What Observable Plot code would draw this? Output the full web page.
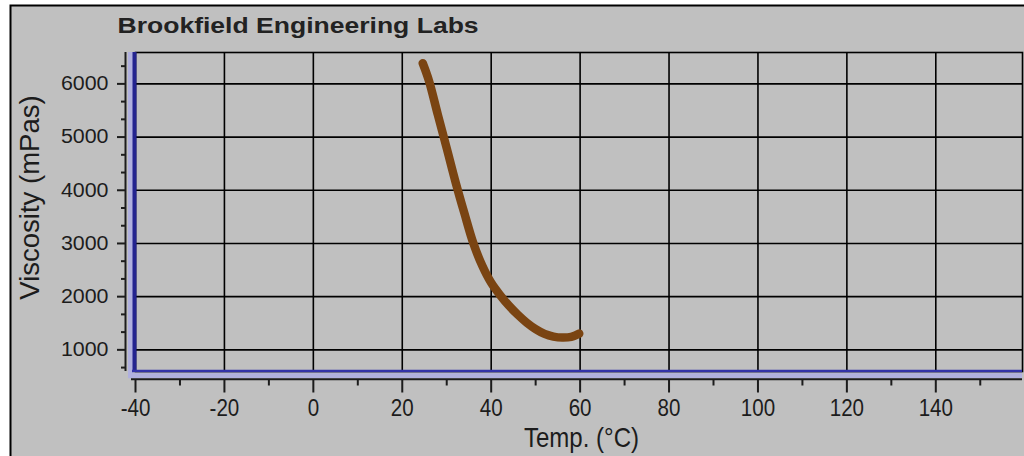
<!DOCTYPE html>
<html>
<head>
<meta charset="utf-8">
<script src="https://cdn.jsdelivr.net/npm/d3@7"></script>
<script src="https://cdn.jsdelivr.net/npm/@observablehq/plot@0.6"></script>
<style>
  html, body { margin: 0; padding: 0; background: #fff; }
  #chart svg { display: block; }
</style>
</head>
<body>
<div id="chart"></div>
<script>
// Viscosity readings against temperature
const temperature = [24.6, 26, 28, 30, 32, 34, 36, 38, 40, 42, 44, 46, 48, 50, 52, 54, 56, 58, 59.8];
const viscosity   = [6390, 6060, 5420, 4790, 4150, 3560, 3000, 2580, 2260, 2030, 1830, 1660, 1510, 1390, 1300, 1250, 1232, 1245, 1305];

// Axis ticks
const xMajorTicks = [-40, -20, 0, 20, 40, 60, 80, 100, 120, 140];
const xMinorTicks = [-30, -10, 10, 30, 50, 70, 90, 110, 130, 150];
const yMajorTicks = [1000, 2000, 3000, 4000, 5000, 6000];
const yMinorTicks = [666.67, 1333.33, 1666.67, 2333.33, 2666.67, 3333.33, 3666.67,
                     4333.33, 4666.67, 5333.33, 5666.67, 6333.33];
const xGrid = [-20, 0, 20, 40, 60, 80, 100, 120, 140];
const yGrid = [1000, 2000, 3000, 4000, 5000, 6000];

const title = "Brookfield Engineering Labs";
const xLabel = "Temp. (°C)";
const yLabel = "Viscosity (mPas)";

const readings = temperature.map((t, i) => ({t, v: viscosity[i]}));
const xDomain = [-40, 159.5];
const yDomain = [593, 6590];
const xMin = [xDomain[0]];
const yMin = [yDomain[0]];

const panel = "#c0c0c0";
const ink = "#1c1c1c";
const wallBlue = "#24248f";
const wallTint = "#b0b0de";
const font = "'Liberation Sans', Arial, sans-serif";
const plainNumber = d => String(d);

const chart = Plot.plot({
  width: 1024,
  height: 456,
  marginLeft: 135,
  marginRight: 2,
  marginTop: 52,
  marginBottom: 85,
  style: {fontFamily: font, background: "#fff", overflow: "hidden"},
  x: {domain: xDomain, label: null},
  y: {domain: yDomain, label: null},
  marks: [
    // outer grey panel with its black border
    Plot.frame({fill: panel, stroke: "#000", strokeWidth: 2,
      insetLeft: -125, insetTop: -47, insetRight: -12, insetBottom: -100}),

    // tinted wall bands left and below the plotting area
    Plot.ruleX(xMin, {stroke: wallTint, strokeWidth: 5, dx: -5, insetBottom: -6}),
    Plot.ruleY(yMin, {stroke: wallTint, strokeWidth: 5, dy: 4.2, insetLeft: -7}),

    // grid
    Plot.ruleX(xGrid, {stroke: "#000", strokeWidth: 1.6}),
    Plot.ruleY(yGrid, {stroke: "#000", strokeWidth: 1.6}),
    Plot.frame({stroke: "#000", strokeWidth: 1.6}),

    // blue walls
    Plot.ruleX(xMin, {stroke: wallBlue, strokeWidth: 4, dx: -1}),
    Plot.ruleY(yMin, {stroke: "#3232a8", strokeWidth: 2.4, dy: -0.5, insetLeft: -3}),

    // axis lines
    Plot.ruleY(yMin, {stroke: ink, strokeWidth: 2, dy: 7.7, insetLeft: -4}),
    Plot.ruleX(xMin, {stroke: ink, strokeWidth: 2, dx: -10}),

    // x axis
    Plot.axisX(xMajorTicks, {anchor: "bottom", tickSize: 13, dy: 8.5, tickPadding: 5.5,
      stroke: ink, strokeWidth: 2, fill: ink, fontSize: 24.5, label: null, tickFormat: plainNumber}),
    Plot.axisX(xMinorTicks, {anchor: "bottom", tickSize: 6, dy: 8.5,
      stroke: ink, strokeWidth: 2, fill: "none", label: null}),

    // y axis
    Plot.axisY(yMajorTicks, {anchor: "left", tickSize: 8, dx: -10, tickPadding: 9,
      stroke: ink, strokeWidth: 2, fill: ink, fontSize: 20, label: null, tickFormat: plainNumber}),
    Plot.axisY(yMinorTicks, {anchor: "left", tickSize: 4, dx: -10,
      stroke: ink, strokeWidth: 2, fill: "none", label: null}),

    // viscosity curve
    Plot.line(readings, {x: "t", y: "v", stroke: "#7a4412", strokeWidth: 8.5,
      curve: "catmull-rom", strokeLinecap: "round", strokeLinejoin: "round"}),

    // title and axis titles
    Plot.text([title], {frameAnchor: "top-left", dx: -18, dy: -35, textAnchor: "start",
      lineAnchor: "top", fontSize: 22.3, fontWeight: "bold", fill: "#222"}),
    Plot.text([xLabel], {frameAnchor: "bottom", dx: 2.5, dy: 56, textAnchor: "middle",
      lineAnchor: "top", fontSize: 27, fill: ink}),
    Plot.text([yLabel], {frameAnchor: "left", dx: -105.6, dy: -14.5, rotate: -90,
      textAnchor: "middle", lineAnchor: "middle", fontSize: 27.5, fill: ink})
  ]
});

// horizontal stretch of a text run about its anchor point
function stretchText(t, k) {
  const tr = t.getAttribute("transform");
  if (tr) {
    t.setAttribute("transform", `${tr} scale(${k},1)`);
  } else {
    const x = +(t.getAttribute("x") || 0);
    t.setAttribute("x", x / k);
    t.setAttribute("transform", `scale(${k},1)`);
  }
}
function stretchGroup(svg, label, k) {
  svg.querySelectorAll(`g[aria-label="${label}"] text`).forEach(t => stretchText(t, k));
}
function stretchByContent(svg, content, k) {
  svg.querySelectorAll("text").forEach(t => { if (t.textContent === content) stretchText(t, k); });
}
stretchByContent(chart, title, 1.19);
stretchByContent(chart, xLabel, 0.89);
stretchGroup(chart, "x-axis tick label", 0.84);
stretchGroup(chart, "y-axis tick label", 1.07);

document.getElementById("chart").append(chart);
</script>
</body>
</html>
